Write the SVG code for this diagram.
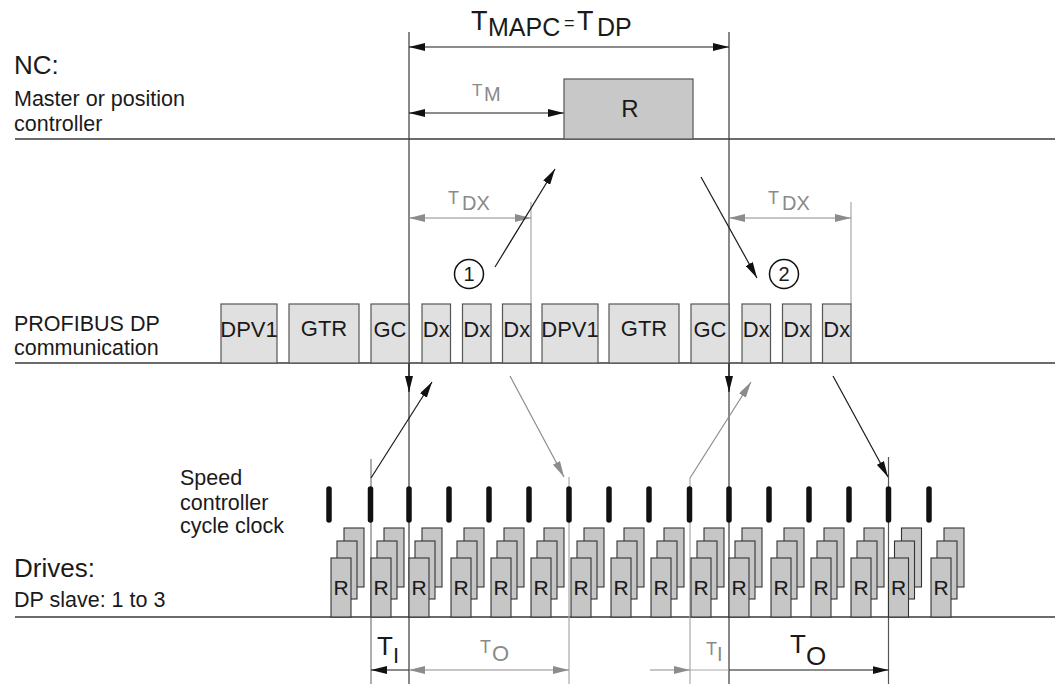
<svg xmlns="http://www.w3.org/2000/svg" width="1055" height="684" viewBox="0 0 1055 684">
<style>
text{font-family:"Liberation Sans",Arial,sans-serif;fill:#1a1a1a}
.g{fill:#8a8a8a}
.rule{stroke:#3a3a3a;stroke-width:1.3;fill:none}
.main{stroke:#3a3a3a;stroke-width:1.2;fill:none}
.blk{stroke:#1a1a1a;stroke-width:1.2;fill:none}
.gry{stroke:#8c8c8c;stroke-width:1.2;fill:none}
.lg{stroke:#a8a8a8;stroke-width:1.2;fill:none}
.dp{fill:#e0e0e0;stroke:#555;stroke-width:1.2}
.dr{fill:#c6c6c6;stroke:#333;stroke-width:1.1}
.nc{fill:#c8c8c8;stroke:#555;stroke-width:1.2}
.bar{stroke:#111;stroke-width:5.5;stroke-linecap:round}
.bl{font-size:22px;text-anchor:middle}
.rl{font-size:21px;text-anchor:middle}
</style>
<defs>
<marker id="ah" viewBox="0 0 16 8" refX="16" refY="4" markerWidth="16" markerHeight="8" markerUnits="userSpaceOnUse" orient="auto-start-reverse"><path d="M0,0L16,4L0,8z" fill="#111"/></marker>
<marker id="ahg" viewBox="0 0 16 8" refX="16" refY="4" markerWidth="16" markerHeight="8" markerUnits="userSpaceOnUse" orient="auto-start-reverse"><path d="M0,0L16,4L0,8z" fill="#8c8c8c"/></marker>
</defs>
<rect width="1055" height="684" fill="#fff"/>

<g id="row-labels">
<text x="14" y="74" font-size="26">NC:</text>
<text x="14" y="106" font-size="21.5">Master or position</text>
<text x="14" y="131" font-size="21.5">controller</text>
<text x="14" y="331" font-size="21.5">PROFIBUS DP</text>
<text x="14" y="355" font-size="21.5">communication</text>
<text x="180" y="485" font-size="21.5">Speed</text>
<text x="180" y="510" font-size="21.5">controller</text>
<text x="180" y="533" font-size="21.5">cycle clock</text>
<text x="14" y="577" font-size="26">Drives:</text>
<text x="14" y="607" font-size="21.5">DP slave: 1 to 3</text>
</g>

<g id="rules">
<line class="rule" x1="15" y1="139" x2="1055" y2="139"/>
<line class="rule" x1="15" y1="363" x2="1055" y2="363"/>
<line class="rule" x1="15" y1="617" x2="1055" y2="617"/>
</g>

<g id="connectors">
<line class="main" x1="409" y1="32" x2="409" y2="684"/>
<line class="main" x1="729" y1="32" x2="729" y2="684"/>
<line class="lg" x1="531" y1="202" x2="531" y2="304"/>
<line class="lg" x1="851" y1="202" x2="851" y2="304"/>
<line stroke="#777" stroke-width="1.2" x1="371" y1="459" x2="371" y2="684"/>
<line class="lg" x1="569" y1="477" x2="569" y2="684"/>
<line class="lg" x1="690" y1="478" x2="690" y2="684"/>
<line stroke="#555" stroke-width="1.2" x1="888.5" y1="457" x2="888.5" y2="684"/>

<line class="blk" x1="409" y1="47" x2="729" y2="47" marker-start="url(#ah)" marker-end="url(#ah)"/>
<line class="blk" x1="409" y1="113" x2="564" y2="113" marker-start="url(#ah)" marker-end="url(#ah)"/>
<line class="gry" x1="409" y1="218" x2="531" y2="218" marker-start="url(#ahg)" marker-end="url(#ahg)"/>
<line class="gry" x1="729" y1="218" x2="851" y2="218" marker-start="url(#ahg)" marker-end="url(#ahg)"/>

<line class="blk" x1="495" y1="267" x2="555" y2="169" marker-end="url(#ah)"/>
<line class="blk" x1="701" y1="177" x2="757" y2="278" marker-end="url(#ah)"/>

<line class="blk" x1="409" y1="363" x2="409" y2="392" marker-end="url(#ah)"/>
<line class="blk" x1="729" y1="363" x2="729" y2="392" marker-end="url(#ah)"/>
<line class="blk" x1="371" y1="478" x2="432" y2="382" marker-end="url(#ah)"/>
<line class="gry" x1="510" y1="376" x2="564" y2="477" marker-end="url(#ahg)"/>
<line class="gry" x1="690" y1="478" x2="751" y2="382" marker-end="url(#ahg)"/>
<line class="blk" x1="833" y1="376" x2="888" y2="477" marker-end="url(#ah)"/>

<line class="blk" x1="371" y1="670" x2="409" y2="670" marker-start="url(#ah)"/>
<line class="gry" x1="409" y1="670" x2="569" y2="670" marker-start="url(#ahg)" marker-end="url(#ahg)"/>
<line class="gry" x1="650" y1="670" x2="690" y2="670" marker-end="url(#ahg)"/>
<line class="lg" x1="690" y1="670" x2="729" y2="670"/>
<line class="blk" x1="729" y1="670" x2="888.5" y2="670" marker-end="url(#ah)"/>
</g>

<g id="dim-labels">
<text font-size="27"><tspan x="471" y="30">T</tspan><tspan x="488" y="36" font-size="25">MAPC</tspan><tspan x="564" y="29" font-size="18">=</tspan><tspan x="577" y="30">T</tspan><tspan x="597" y="36" font-size="25">DP</tspan></text>
<text class="g"><tspan x="472" y="96" font-size="17">T</tspan><tspan x="484" y="101" font-size="20">M</tspan></text>
<text class="g"><tspan x="448" y="204" font-size="18">T</tspan><tspan x="462" y="210" font-size="20">DX</tspan></text>
<text class="g"><tspan x="768" y="204" font-size="18">T</tspan><tspan x="782" y="210" font-size="20">DX</tspan></text>
<text><tspan x="377" y="655" font-size="26">T</tspan><tspan x="393" y="663" font-size="22">I</tspan></text>
<text class="g"><tspan x="480" y="653" font-size="18">T</tspan><tspan x="492" y="661" font-size="22">O</tspan></text>
<text class="g"><tspan x="706" y="655" font-size="18">T</tspan><tspan x="717" y="661" font-size="20">I</tspan></text>
<text><tspan x="790" y="653" font-size="26">T</tspan><tspan x="806" y="665" font-size="26">O</tspan></text>
</g>

<g id="nc-R">
<rect class="nc" x="564" y="79" width="129" height="60"/>
<text x="630" y="117" font-size="24" text-anchor="middle">R</text>
</g>

<g id="marker-1">
<circle cx="469" cy="274" r="14.5" fill="#fff" stroke="#111" stroke-width="1.5"/>
<text x="469" y="281" font-size="20" text-anchor="middle">1</text>
</g>
<g id="marker-2">
<circle cx="784" cy="274" r="14.5" fill="#fff" stroke="#111" stroke-width="1.5"/>
<text x="784" y="281" font-size="20" text-anchor="middle">2</text>
</g>

<g id="dp-telegrams">
<g id="dp-dpv1-a"><rect class="dp" x="221" y="304" width="56" height="59"/><text class="bl" x="249" y="337">DPV1</text></g>
<g id="dp-gtr-a"><rect class="dp" x="289" y="304" width="70" height="59"/><text class="bl" x="324" y="336">GTR</text></g>
<g id="dp-gc-a"><rect class="dp" x="371" y="304" width="38" height="59"/><text class="bl" x="390" y="337">GC</text></g>
<g id="dp-dx-a1"><rect class="dp" x="422" y="304" width="28.5" height="59"/><text class="bl" x="436.3" y="337">Dx</text></g>
<g id="dp-dx-a2"><rect class="dp" x="462.5" y="304" width="28.5" height="59"/><text class="bl" x="476.8" y="337">Dx</text></g>
<g id="dp-dx-a3"><rect class="dp" x="502.5" y="304" width="28.5" height="59"/><text class="bl" x="516.8" y="337">Dx</text></g>
<g id="dp-dpv1-b"><rect class="dp" x="542" y="304" width="56" height="59"/><text class="bl" x="570" y="337">DPV1</text></g>
<g id="dp-gtr-b"><rect class="dp" x="609" y="304" width="70" height="59"/><text class="bl" x="644" y="336">GTR</text></g>
<g id="dp-gc-b"><rect class="dp" x="691" y="304" width="38" height="59"/><text class="bl" x="710" y="337">GC</text></g>
<g id="dp-dx-b1"><rect class="dp" x="742" y="304" width="28.5" height="59"/><text class="bl" x="756.3" y="337">Dx</text></g>
<g id="dp-dx-b2"><rect class="dp" x="782.5" y="304" width="28.5" height="59"/><text class="bl" x="796.8" y="337">Dx</text></g>
<g id="dp-dx-b3"><rect class="dp" x="822.5" y="304" width="28.5" height="59"/><text class="bl" x="836.8" y="337">Dx</text></g>
</g>

<g id="drive-stacks">
<g id="st1"><rect class="dr" x="344" y="528" width="20" height="59"/><rect class="dr" x="337" y="541" width="20" height="58"/><rect class="dr" x="331" y="558" width="20" height="59"/><text class="rl" x="341" y="595">R</text></g>
<g id="st2"><rect class="dr" x="384" y="528" width="20" height="59"/><rect class="dr" x="377" y="541" width="20" height="58"/><rect class="dr" x="371" y="558" width="20" height="59"/><text class="rl" x="381" y="595">R</text></g>
<g id="st3"><rect class="dr" x="422" y="528" width="20" height="59"/><rect class="dr" x="415" y="541" width="20" height="58"/><rect class="dr" x="409" y="558" width="20" height="59"/><text class="rl" x="419" y="595">R</text></g>
<g id="st4"><rect class="dr" x="464" y="528" width="20" height="59"/><rect class="dr" x="457" y="541" width="20" height="58"/><rect class="dr" x="451" y="558" width="20" height="59"/><text class="rl" x="461" y="595">R</text></g>
<g id="st5"><rect class="dr" x="504" y="528" width="20" height="59"/><rect class="dr" x="497" y="541" width="20" height="58"/><rect class="dr" x="491" y="558" width="20" height="59"/><text class="rl" x="501" y="595">R</text></g>
<g id="st6"><rect class="dr" x="544" y="528" width="20" height="59"/><rect class="dr" x="537" y="541" width="20" height="58"/><rect class="dr" x="531" y="558" width="20" height="59"/><text class="rl" x="541" y="595">R</text></g>
<g id="st7"><rect class="dr" x="584" y="528" width="20" height="59"/><rect class="dr" x="577" y="541" width="20" height="58"/><rect class="dr" x="571" y="558" width="20" height="59"/><text class="rl" x="581" y="595">R</text></g>
<g id="st8"><rect class="dr" x="624" y="528" width="20" height="59"/><rect class="dr" x="617" y="541" width="20" height="58"/><rect class="dr" x="611" y="558" width="20" height="59"/><text class="rl" x="621" y="595">R</text></g>
<g id="st9"><rect class="dr" x="664" y="528" width="20" height="59"/><rect class="dr" x="657" y="541" width="20" height="58"/><rect class="dr" x="651" y="558" width="20" height="59"/><text class="rl" x="661" y="595">R</text></g>
<g id="st10"><rect class="dr" x="704" y="528" width="20" height="59"/><rect class="dr" x="697" y="541" width="20" height="58"/><rect class="dr" x="691" y="558" width="20" height="59"/><text class="rl" x="701" y="595">R</text></g>
<g id="st11"><rect class="dr" x="742" y="528" width="20" height="59"/><rect class="dr" x="735" y="541" width="20" height="58"/><rect class="dr" x="729" y="558" width="20" height="59"/><text class="rl" x="739" y="595">R</text></g>
<g id="st12"><rect class="dr" x="784" y="528" width="20" height="59"/><rect class="dr" x="777" y="541" width="20" height="58"/><rect class="dr" x="771" y="558" width="20" height="59"/><text class="rl" x="781" y="595">R</text></g>
<g id="st13"><rect class="dr" x="824" y="528" width="20" height="59"/><rect class="dr" x="817" y="541" width="20" height="58"/><rect class="dr" x="811" y="558" width="20" height="59"/><text class="rl" x="821" y="595">R</text></g>
<g id="st14"><rect class="dr" x="864" y="528" width="20" height="59"/><rect class="dr" x="857" y="541" width="20" height="58"/><rect class="dr" x="851" y="558" width="20" height="59"/><text class="rl" x="861" y="595">R</text></g>
<g id="st15"><rect class="dr" x="901.5" y="528" width="20" height="59"/><rect class="dr" x="894.5" y="541" width="20" height="58"/><rect class="dr" x="888.5" y="558" width="20" height="59"/><text class="rl" x="898.5" y="595">R</text></g>
<g id="st16"><rect class="dr" x="944" y="528" width="20" height="59"/><rect class="dr" x="937" y="541" width="20" height="58"/><rect class="dr" x="931" y="558" width="20" height="59"/><text class="rl" x="941" y="595">R</text></g>
</g>

<g id="clock-bars">
<line class="bar" x1="329" y1="489" x2="329" y2="520"/>
<line class="bar" x1="370.5" y1="489" x2="370.5" y2="520"/>
<line class="bar" x1="409" y1="489" x2="409" y2="520"/>
<line class="bar" x1="449" y1="489" x2="449" y2="520"/>
<line class="bar" x1="489" y1="489" x2="489" y2="520"/>
<line class="bar" x1="529" y1="489" x2="529" y2="520"/>
<line class="bar" x1="569" y1="489" x2="569" y2="520"/>
<line class="bar" x1="609" y1="489" x2="609" y2="520"/>
<line class="bar" x1="649" y1="489" x2="649" y2="520"/>
<line class="bar" x1="689.5" y1="489" x2="689.5" y2="520"/>
<line class="bar" x1="729" y1="489" x2="729" y2="520"/>
<line class="bar" x1="769" y1="489" x2="769" y2="520"/>
<line class="bar" x1="809" y1="489" x2="809" y2="520"/>
<line class="bar" x1="849" y1="489" x2="849" y2="520"/>
<line class="bar" x1="888.5" y1="489" x2="888.5" y2="520"/>
<line class="bar" x1="929" y1="489" x2="929" y2="520"/>
</g>
</svg>
